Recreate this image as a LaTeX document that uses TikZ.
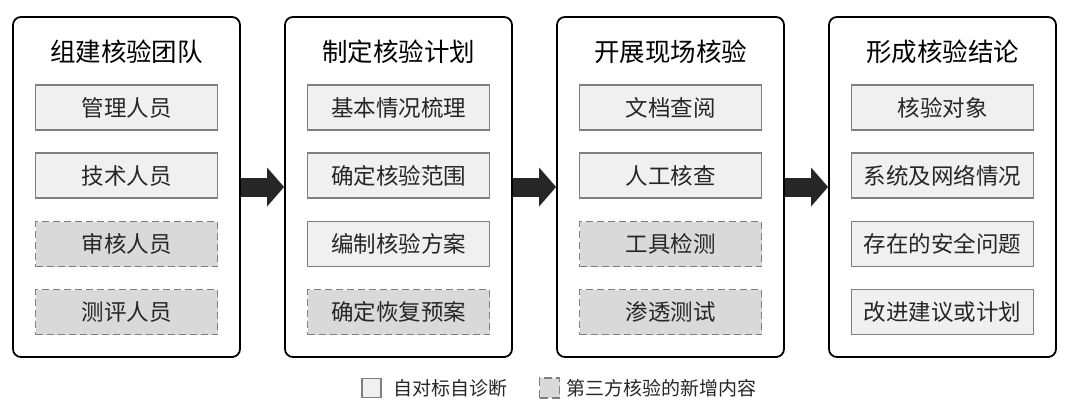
\documentclass[tikz,border=0pt]{standalone}
\usepackage{fontspec}
\setmainfont{Noto Sans CJK SC}
\usetikzlibrary{arrows.meta}
\definecolor{selfgray}{HTML}{F0F0F0}
\definecolor{newgray}{HTML}{D9D9D9}
\definecolor{edgegray}{HTML}{7F7F7F}
\definecolor{arrowdark}{HTML}{262626}

\begin{document}
\begin{tikzpicture}[x=1pt,y=-1pt,
	stage/.style={draw, line width=1.8pt, rounded corners=8pt, minimum width=227pt, minimum height=340pt},
	title/.style={font=\fontsize{25.5}{26}\selectfont, inner sep=0pt},
	self/.style={draw=edgegray, fill=selfgray, line width=1.4pt, minimum width=182pt, minimum height=45pt, inner sep=0pt, font=\fontsize{22.5}{23}\selectfont, text=black!85},
	third/.style={self, fill=newgray, dash pattern=on 7pt off 4pt},
	key/.style={minimum width=19pt, minimum height=19pt},
	flow/.style={arrowdark, line width=19pt, -{Triangle[length=17pt,width=38pt]}}
	]
\useasboundingbox (0,0) rectangle (1080,408);

% four stages
\path (126.5,187) node[stage] (team) {}
	(398.5,187) node[stage] (plan) {}
	(670.5,187) node[stage] (onsite) {}
	(942.5,187) node[stage] (verdict) {}
	;

\path (126.5,52) node[title] {组建核验团队}
	(126.5,107.5) node[self] (team1) {管理人员}
	(126.5,175.5) node[self] (team2) {技术人员}
	(126.5,244) node[third] (team3) {审核人员}
	(126.5,312) node[third] (team4) {测评人员}
	;

\path (398.5,52) node[title] {制定核验计划}
	(398.5,107.5) node[self] (plan1) {基本情况梳理}
	(398.5,175.5) node[self] (plan2) {确定核验范围}
	(398.5,244) node[self] (plan3) {编制核验方案}
	(398.5,312) node[third] (plan4) {确定恢复预案}
	;

\path (670.5,52) node[title] {开展现场核验}
	(670.5,107.5) node[self] (onsite1) {文档查阅}
	(670.5,175.5) node[self] (onsite2) {人工核查}
	(670.5,244) node[third] (onsite3) {工具检测}
	(670.5,312) node[third] (onsite4) {渗透测试}
	;

\path (942.5,52) node[title] {形成核验结论}
	(942.5,107.5) node[self] (verdict1) {核验对象}
	(942.5,175.5) node[self] (verdict2) {系统及网络情况}
	(942.5,244) node[self] (verdict3) {存在的安全问题}
	(942.5,312) node[self] (verdict4) {改进建议或计划}
	;

\draw [flow] (team.east) -- (plan.west);
\draw [flow] (plan.east) -- (onsite.west);
\draw [flow] (onsite.east) -- (verdict.west);

% legend
\path (371.5,388) node[self, key] (selfkey) {}
	(549.5,388) node[third, key, minimum width=20pt, minimum height=20pt, dash pattern=on 8pt off 4pt] (thirdkey) {}
	;
\node [anchor=west, inner sep=0pt, font=\fontsize{19}{19}\selectfont, text=black!85] (selftext) at ([xshift=12pt]selfkey.east) {自对标自诊断};
\node [anchor=west, inner sep=0pt, font=\fontsize{19}{19}\selectfont, text=black!85] (thirdtext) at ([xshift=6pt]thirdkey.east) {第三方核验的新增内容};
\end{tikzpicture}
\end{document}
